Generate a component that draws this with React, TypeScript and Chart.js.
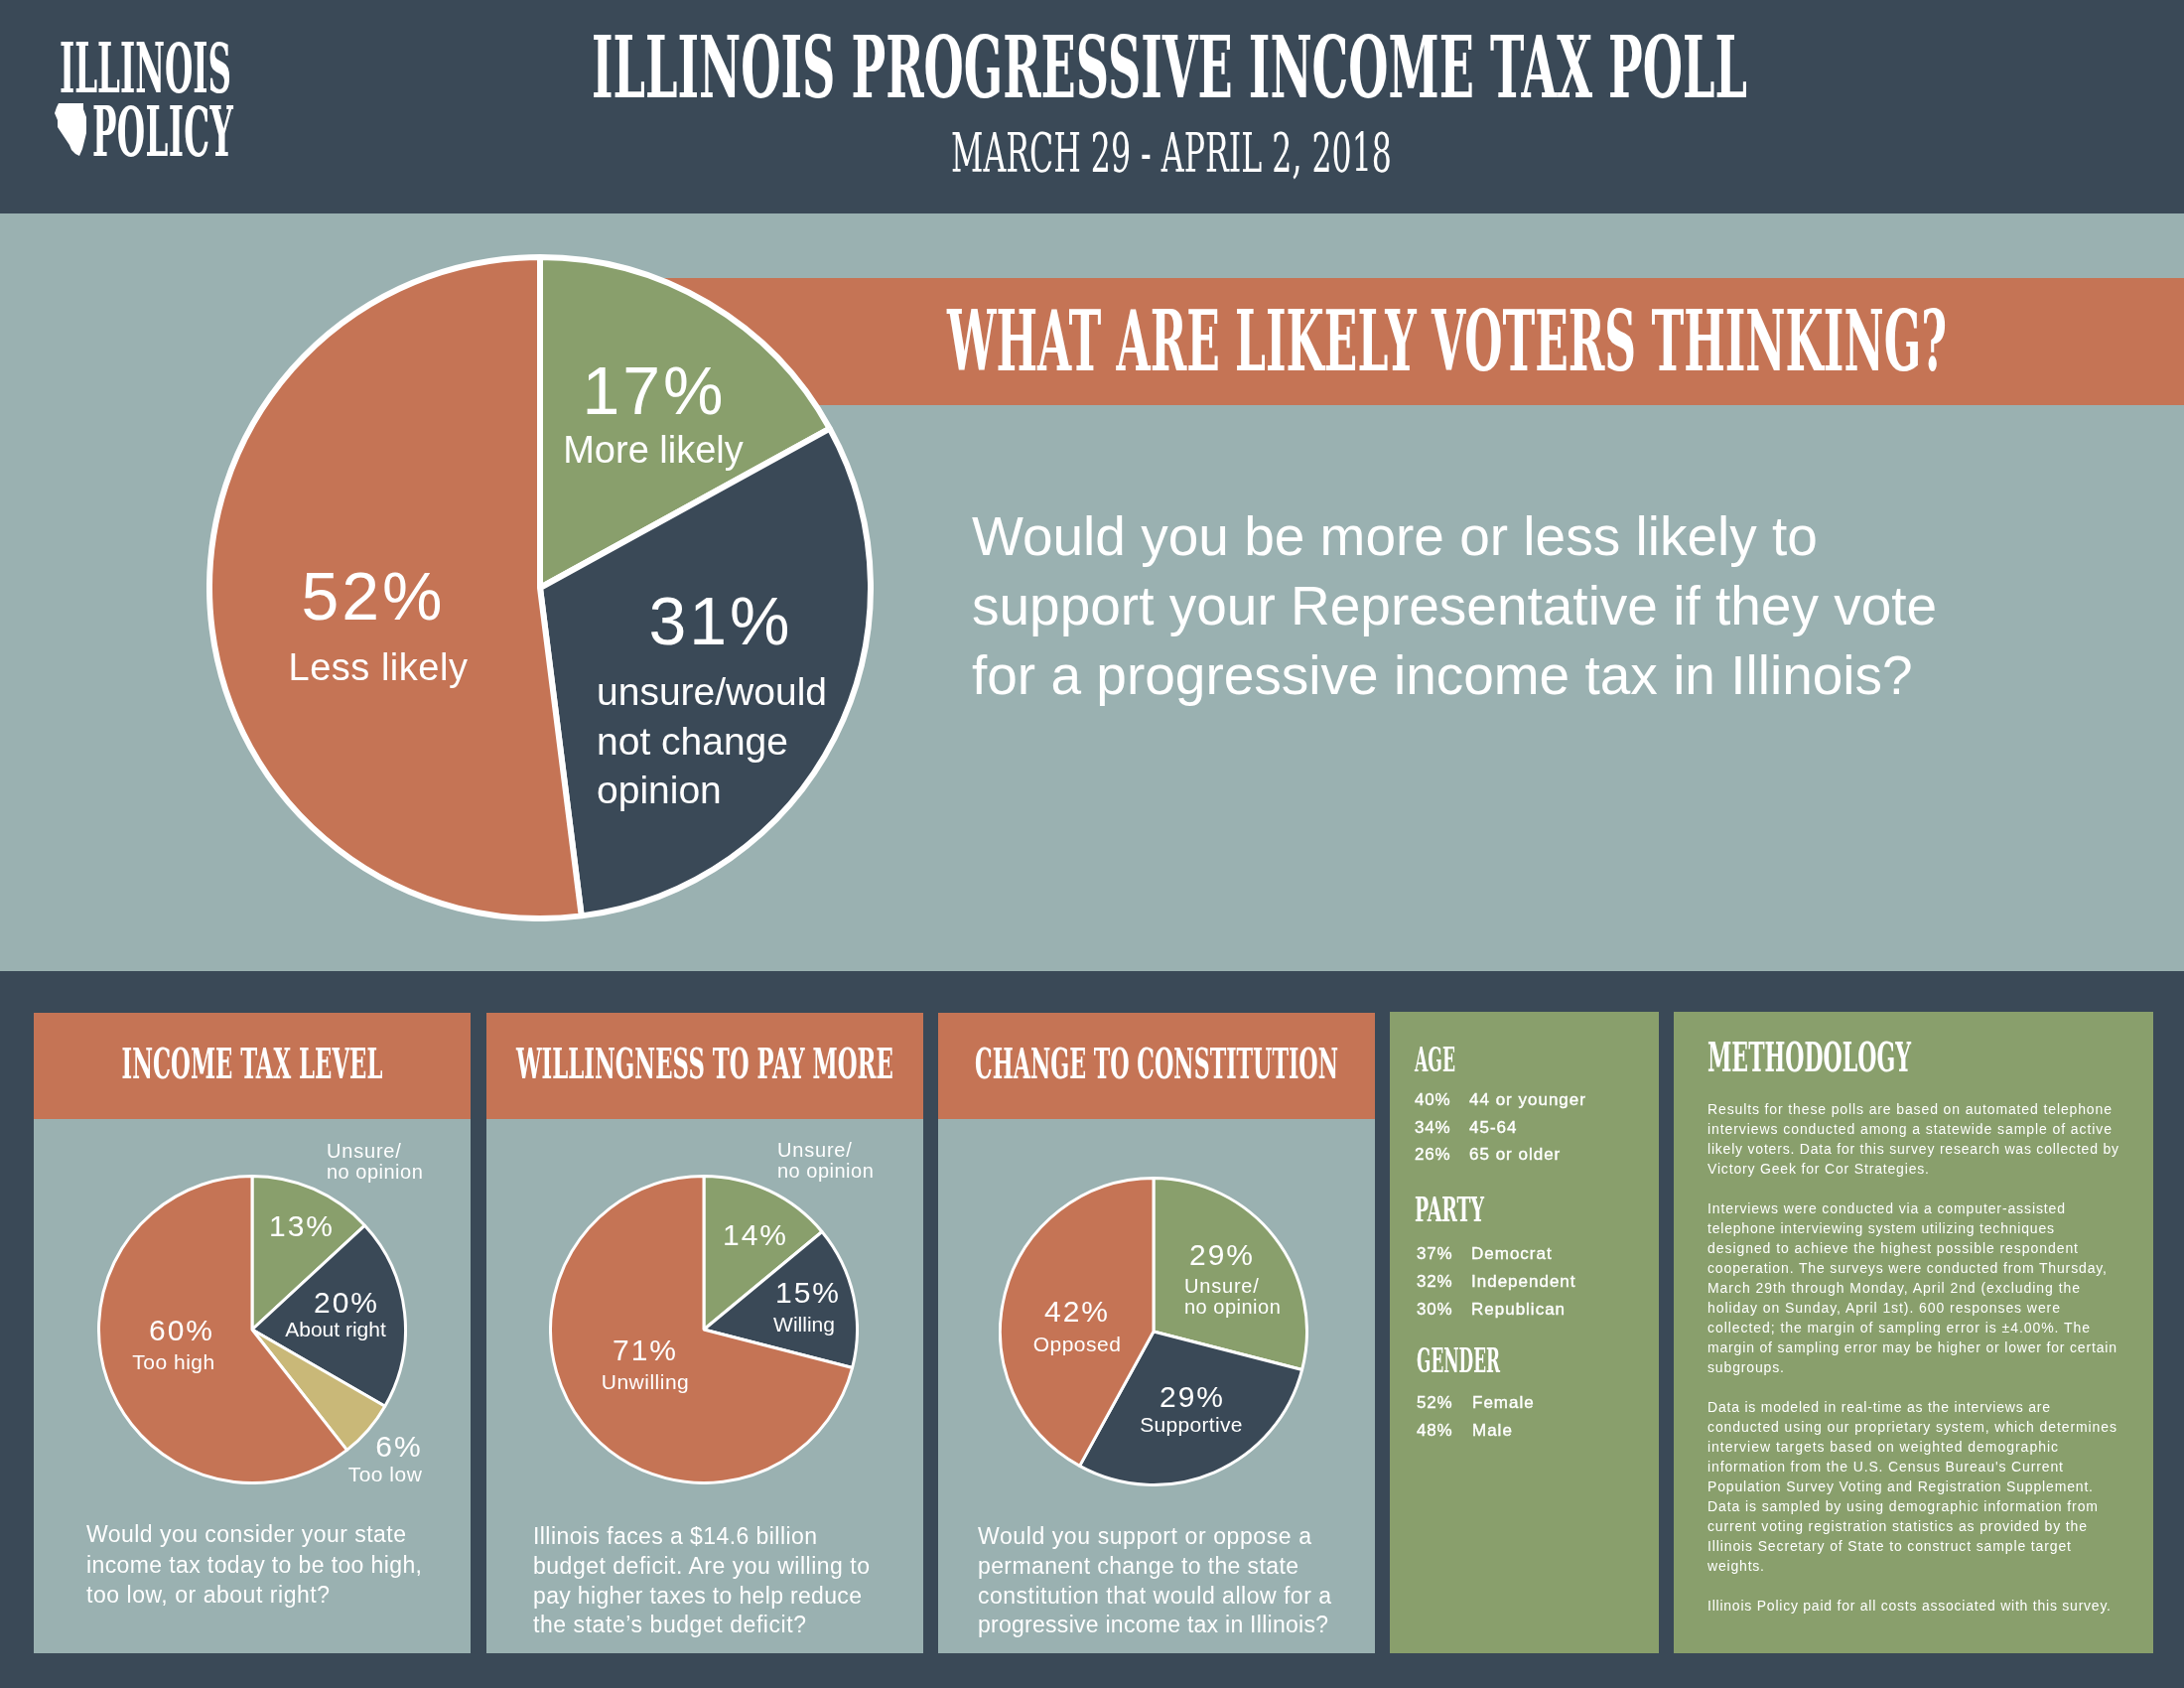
import React, { useEffect, useLayoutEffect, useRef, useState } from "react";
import { Chart, registerables } from "chart.js";

Chart.register(...registerables);

// ---------------- DATA ----------------
const mainCategories = ["More likely", "unsure/would not change opinion", "Less likely"];
const mainValues = [17, 31, 52];

const taxLevelCategories = ["Unsure/no opinion", "About right", "Too low", "Too high"];
const taxLevelValues = [13, 20, 6, 60];

const payMoreCategories = ["Unsure/no opinion", "Willing", "Unwilling"];
const payMoreValues = [14, 15, 71];

const constitutionCategories = ["Unsure/no opinion", "Supportive", "Opposed"];
const constitutionValues = [29, 29, 42];

const ageGroups = ["44 or younger", "45-64", "65 or older"];
const ageShares = [40, 34, 26];
const partyGroups = ["Democrat", "Independent", "Republican"];
const partyShares = [37, 32, 30];
const genderGroups = ["Female", "Male"];
const genderShares = [52, 48];

// ---------------- STYLE ----------------
const DARK = "#3a4957";
const LIGHT = "#9ab1b1";
const ORANGE = "#c57455";
const GREEN = "#899f6c";
const TAN = "#c9b878";
const WHITE = "#ffffff";
const SLAB = "'DejaVu Serif Condensed', 'DejaVu Serif', serif";
const SANS = "'Liberation Sans', Arial, sans-serif";

const methodologyLines: [string, number][] = [
  ["Results for these polls are based on automated telephone", 407],
  ["interviews conducted among a statewide sample of active", 407],
  ["likely voters. Data for this survey research was collected by", 414],
  ["Victory Geek for Cor Strategies.", 223],
  ["", 0],
  ["Interviews were conducted via a computer-assisted", 360],
  ["telephone interviewing system utilizing techniques", 349],
  ["designed to achieve the highest possible respondent", 373],
  ["cooperation. The surveys were conducted from Thursday,", 402],
  ["March 29th through Monday, April 2nd (excluding the", 375],
  ["holiday on Sunday, April 1st). 600 responses were", 355],
  ["collected; the margin of sampling error is \u00b14.00%. The", 385],
  ["margin of sampling error may be higher or lower for certain", 412],
  ["subgroups.", 77],
  ["", 0],
  ["Data is modeled in real-time as the interviews are", 345],
  ["conducted using our proprietary system, which determines", 412],
  ["interview targets based on weighted demographic", 353],
  ["information from the U.S. Census Bureau's Current", 358],
  ["Population Survey Voting and Registration Supplement.", 388],
  ["Data is sampled by using demographic information from", 393],
  ["current voting registration statistics as provided by the", 382],
  ["Illinois Secretary of State to construct sample target", 366],
  ["weights.", 57],
  ["", 0],
  ["Illinois Policy paid for all costs associated with this survey.", 406],
];

function PieChart(props: {
  labels: string[];
  values: number[];
  colors: string[];
  cx: number;
  cy: number;
  size: number;
  border: number;
}) {
  const ref = useRef<HTMLCanvasElement>(null);
  useEffect(() => {
    const chart = new Chart(ref.current as HTMLCanvasElement, {
      type: "pie",
      data: {
        labels: props.labels,
        datasets: [
          {
            data: props.values,
            backgroundColor: props.colors,
            borderColor: WHITE,
            borderWidth: props.border,
            hoverOffset: 0,
          },
        ],
      },
      options: {
        responsive: false,
        maintainAspectRatio: false,
        animation: false,
        events: [],
        layout: { padding: 0 },
        plugins: { legend: { display: false }, tooltip: { enabled: false } },
      },
    });
    return () => chart.destroy();
  }, []);
  const { cx, cy, size } = props;
  return (
    <canvas
      ref={ref}
      width={size}
      height={size}
      style={{ position: "absolute", left: cx - size / 2, top: cy - size / 2, width: size, height: size }}
    />
  );
}

function T(p: {
  x: number;
  y: number;
  s: number;
  children: any;
  f?: string;
  w?: string;
  a?: "start" | "middle" | "end";
  len?: number;
  ls?: number;
  fill?: string;
  sw?: number;
}) {
  return (
    <text
      x={p.x}
      y={p.y}
      fontSize={p.s}
      fontFamily={p.f || SANS}
      fontWeight={p.w || "normal"}
      textAnchor={p.a || "start"}
      fill={p.fill || WHITE}
      stroke={p.sw ? WHITE : undefined}
      strokeWidth={p.sw}
      textLength={p.len}
      lengthAdjust={p.len ? "spacing" : undefined}
      style={p.ls ? { letterSpacing: p.ls } : undefined}
    >
      {p.children}
    </text>
  );
}

// Condensed slab heading, scaled horizontally to a target width
function Slab(p: { x: number; y: number; s: number; len: number; w?: string; a?: "start" | "middle"; children: string }) {
  const ref = useRef<SVGTextElement>(null);
  const [sx, setSx] = useState(0.6);
  useLayoutEffect(() => {
    if (ref.current) {
      const nat = ref.current.getComputedTextLength();
      if (nat > 0) setSx(p.len / nat);
    }
  }, []);
  const left = p.a === "middle" ? p.x - p.len / 2 : p.x;
  return (
    <text
      ref={ref}
      transform={`translate(${left},${p.y}) scale(${sx},1)`}
      x={0}
      y={0}
      fontSize={p.s}
      fontFamily={SLAB}
      fontWeight={p.w || "bold"}
      fill={WHITE}
      style={{ fontStretch: "condensed" }}
    >
      {p.children}
    </text>
  );
}

// Two-line logo in one text element
function Logo() {
  const l1 = useRef<SVGTSpanElement>(null);
  const l2 = useRef<SVGTSpanElement>(null);
  const [sx, setSx] = useState(0.6);
  const [ls2, setLs2] = useState(0);
  useLayoutEffect(() => {
    if (l1.current && l2.current) {
      const n1 = l1.current.getComputedTextLength();
      const n2 = l2.current.getComputedTextLength();
      if (n1 > 0 && n2 > 0) {
        const s = 173 / n1;
        setSx(s);
        setLs2((142 / s - n2) / 6);
      }
    }
  }, []);
  return (
    <text
      transform={`translate(60,0) scale(${sx},1)`}
      fontSize={70}
      fontFamily={SLAB}
      fontWeight="bold"
      fill={WHITE}
      style={{ fontStretch: "condensed", lineHeight: 0.9 }}
    >
      <tspan ref={l1} x={0} y={93}>ILLINOIS</tspan>
      <tspan ref={l2} x={33 / sx} y={157} style={{ letterSpacing: ls2 }}>POLICY</tspan>
    </text>
  );
}

const pct = (v: number) => `${v}%`;

export default function App() {
  const panels = [
    { x: 34, w: 440, title: "INCOME TAX LEVEL", tl: 263 },
    { x: 490, w: 440, title: "WILLINGNESS TO PAY MORE", tl: 380 },
    { x: 945, w: 440, title: "CHANGE TO CONSTITUTION", tl: 366 },
  ];
  const BIG = 68;
  const BLS = 3;
  const SM = 30;
  const SLS = 2;
  return (
    <div style={{ position: "absolute", left: 0, top: 0, width: 2200, height: 1700, overflow: "hidden", background: DARK }}>
      <svg width={2200} height={1700} style={{ position: "absolute", left: 0, top: 0 }}>
        <rect x={0} y={0} width={2200} height={215} fill={DARK} />
        <rect x={0} y={215} width={2200} height={763} fill={LIGHT} />
        <rect x={544} y={280} width={1656} height={128} fill={ORANGE} />
        {panels.map((p, i) => (
          <g key={i}>
            <rect x={p.x} y={1020} width={p.w} height={107} fill={ORANGE} />
            <rect x={p.x} y={1127} width={p.w} height={538} fill={LIGHT} />
          </g>
        ))}
        <rect x={1400} y={1019} width={271} height={646} fill={GREEN} />
        <rect x={1686} y={1019} width={483} height={646} fill={GREEN} />
        <path
          d="M59,104 L84,104 L84,110 L87,118 L87,134 L85,142 L83,150 L80,157 L76,155 L72,151 L70,146 L66,140 L62,134 L58,128 L58,121 L55,114 L57,108 Z"
          fill={WHITE}
        />
      </svg>

      <PieChart labels={mainCategories} values={mainValues} colors={[GREEN, DARK, ORANGE]} cx={544} cy={592} size={672} border={6} />
      <PieChart labels={taxLevelCategories} values={taxLevelValues} colors={[GREEN, DARK, TAN, ORANGE]} cx={254} cy={1339} size={312} border={3} />
      <PieChart labels={payMoreCategories} values={payMoreValues} colors={[GREEN, DARK, ORANGE]} cx={709} cy={1339} size={312} border={3} />
      <PieChart labels={constitutionCategories} values={constitutionValues} colors={[GREEN, DARK, ORANGE]} cx={1162} cy={1341} size={312} border={3} />

      <svg width={2200} height={1700} style={{ position: "absolute", left: 0, top: 0, pointerEvents: "none" }}>
        {/* header */}
        <Logo />
        <Slab x={596} y={98} s={86} len={1164}>ILLINOIS PROGRESSIVE INCOME TAX POLL</Slab>
        <Slab x={958} y={173} s={55} len={444} w="normal">MARCH 29 - APRIL 2, 2018</Slab>

        {/* banner + question */}
        <Slab x={954} y={373} s={84} len={1007}>WHAT ARE LIKELY VOTERS THINKING?</Slab>
        <T x={979} y={559} s={55}>Would you be more or less likely to</T>
        <T x={979} y={629} s={55}>support your Representative if they vote</T>
        <T x={979} y={699} s={55}>for a progressive income tax in Illinois?</T>

        {/* main pie labels */}
        <T x={659} y={417} s={BIG} a="middle" ls={BLS}>{pct(mainValues[0])}</T>
        <T x={658} y={466} s={38} a="middle">{mainCategories[0]}</T>
        <T x={726} y={649} s={BIG} a="middle" ls={BLS}>{pct(mainValues[1])}</T>
        <T x={601} y={710} s={39}>unsure/would</T>
        <T x={601} y={760} s={39}>not change</T>
        <T x={601} y={809} s={39}>opinion</T>
        <T x={376} y={624} s={BIG} a="middle" ls={BLS}>{pct(mainValues[2])}</T>
        <T x={381} y={685} s={38} a="middle" ls={0.5}>{mainCategories[2]}</T>

        {/* panel titles */}
        {panels.map((p, i) => (
          <Slab key={i} x={p.x + p.w / 2} y={1086} s={42} a="middle" len={p.tl}>
            {p.title}
          </Slab>
        ))}

        {/* panel 1 */}
        <T x={329} y={1166} s={20} ls={0.8}>Unsure/</T>
        <T x={329} y={1187} s={20} ls={0.5}>no opinion</T>
        <T x={304} y={1245} s={SM} a="middle" ls={SLS}>{pct(taxLevelValues[0])}</T>
        <T x={349} y={1322} s={SM} a="middle" ls={SLS}>{pct(taxLevelValues[1])}</T>
        <T x={338} y={1346} s={21} a="middle">{taxLevelCategories[1]}</T>
        <T x={402} y={1467} s={SM} a="middle" ls={SLS}>{pct(taxLevelValues[2])}</T>
        <T x={388} y={1492} s={21} a="middle" ls={0.5}>{taxLevelCategories[2]}</T>
        <T x={183} y={1350} s={SM} a="middle" ls={SLS}>{pct(taxLevelValues[3])}</T>
        <T x={175} y={1379} s={21} a="middle" ls={0.5}>{taxLevelCategories[3]}</T>
        <T x={87} y={1553} s={23} len={322}>Would you consider your state</T>
        <T x={87} y={1584} s={23} len={338}>income tax today to be too high,</T>
        <T x={87} y={1614} s={23} len={245}>too low, or about right?</T>

        {/* panel 2 */}
        <T x={783} y={1165} s={20} ls={0.8}>Unsure/</T>
        <T x={783} y={1186} s={20} ls={0.5}>no opinion</T>
        <T x={761} y={1254} s={SM} a="middle" ls={SLS}>{pct(payMoreValues[0])}</T>
        <T x={814} y={1312} s={SM} a="middle" ls={SLS}>{pct(payMoreValues[1])}</T>
        <T x={810} y={1341} s={21} a="middle">{payMoreCategories[1]}</T>
        <T x={650} y={1370} s={SM} a="middle" ls={SLS}>{pct(payMoreValues[2])}</T>
        <T x={650} y={1399} s={21} a="middle" ls={0.5}>{payMoreCategories[2]}</T>
        <T x={537} y={1555} s={23} len={286}>Illinois faces a $14.6 billion</T>
        <T x={537} y={1585} s={23} len={339}>budget deficit. Are you willing to</T>
        <T x={537} y={1615} s={23} len={331}>pay higher taxes to help reduce</T>
        <T x={537} y={1644} s={23} len={275}>the state’s budget deficit?</T>

        {/* panel 3 */}
        <T x={1231} y={1274} s={SM} a="middle" ls={SLS}>{pct(constitutionValues[0])}</T>
        <T x={1193} y={1302} s={20} ls={0.8}>Unsure/</T>
        <T x={1193} y={1323} s={20} ls={0.5}>no opinion</T>
        <T x={1201} y={1417} s={SM} a="middle" ls={SLS}>{pct(constitutionValues[1])}</T>
        <T x={1200} y={1442} s={21} a="middle" ls={0.3}>{constitutionCategories[1]}</T>
        <T x={1085} y={1331} s={SM} a="middle" ls={SLS}>{pct(constitutionValues[2])}</T>
        <T x={1085} y={1361} s={21} a="middle" ls={0.5}>{constitutionCategories[2]}</T>
        <T x={985} y={1555} s={23} len={336}>Would you support or oppose a</T>
        <T x={985} y={1585} s={23} len={323}>permanent change to the state</T>
        <T x={985} y={1615} s={23} len={356}>constitution that would allow for a</T>
        <T x={985} y={1644} s={23} len={353}>progressive income tax in Illinois?</T>

        {/* demographics */}
        <Slab x={1425} y={1079} s={34} len={41}>AGE</Slab>
        {ageGroups.map((g, i) => (
          <g key={g}>
            <T x={1425} y={1113 + i * 27.5} s={17} ls={0.8} sw={0.4}>{pct(ageShares[i])}</T>
            <T x={1480} y={1113 + i * 27.5} s={17} ls={1} sw={0.4}>{g}</T>
          </g>
        ))}
        <Slab x={1425} y={1230} s={34} len={70}>PARTY</Slab>
        {partyGroups.map((g, i) => (
          <g key={g}>
            <T x={1427} y={1268 + i * 28} s={17} ls={0.8} sw={0.4}>{pct(partyShares[i])}</T>
            <T x={1482} y={1268 + i * 28} s={17} ls={1} sw={0.4}>{g}</T>
          </g>
        ))}
        <Slab x={1427} y={1382} s={34} len={84}>GENDER</Slab>
        {genderGroups.map((g, i) => (
          <g key={g}>
            <T x={1427} y={1418 + i * 28} s={17} ls={0.8} sw={0.4}>{pct(genderShares[i])}</T>
            <T x={1483} y={1418 + i * 28} s={17} ls={1} sw={0.4}>{g}</T>
          </g>
        ))}

        {/* methodology */}
        <Slab x={1720} y={1079} s={41} len={205}>METHODOLOGY</Slab>
        {methodologyLines.map(([line, len], i) =>
          line ? (
            <T key={i} x={1720} y={1122 + i * 20} s={14} len={len}>
              {line}
            </T>
          ) : null
        )}
      </svg>
    </div>
  );
}
